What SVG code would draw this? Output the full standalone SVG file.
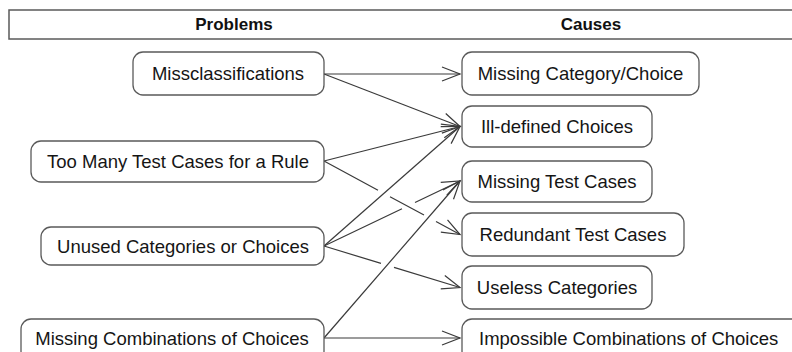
<svg xmlns="http://www.w3.org/2000/svg" width="792" height="352" viewBox="0 0 792 352">
<defs>
<style>
.box{fill:#fff;stroke:#5a5a5a;stroke-width:1.3}
.t{font-family:"Liberation Sans",Arial,sans-serif;font-size:18.5px;fill:#151515;text-anchor:middle}
.h{font-family:"Liberation Sans",Arial,sans-serif;font-size:17px;font-weight:bold;fill:#111;text-anchor:middle}
.c{fill:none;stroke:#3a3a3a;stroke-width:1.2;marker-end:url(#arr)}
</style>
<marker id="arr" markerUnits="userSpaceOnUse" markerWidth="22" markerHeight="18" refX="19" refY="8" orient="auto" viewBox="0 0 22 18"><path d="M1,1 L19,8 L1,15" fill="none" stroke="#3a3a3a" stroke-width="1.2"/></marker>
</defs>
<rect width="792" height="352" fill="#fff"/>
<g id="header">
<rect x="9" y="10" width="800" height="29" fill="#fff" stroke="#5a5a5a" stroke-width="1.5"/>
<text class="h" x="234" y="30">Problems</text>
<text class="h" x="591" y="30">Causes</text>
</g>
<g id="connectors">
<path class="c" d="M324,74 L460,74"/>
<path class="c" d="M324,74 L460,126.5"/>
<path class="c" d="M324,161 L460,126.5"/>
<path class="c" d="M324,161 L378,190.2 M390,196.7 L424,215 M436,221.5 L460,234.5"/>
<path class="c" d="M324,246 L460,126.5"/>
<path class="c" d="M324,246 L402,208.7 M415,202.5 L460,181"/>
<path class="c" d="M324,246 L381,263.4 M394,267.4 L460,287.5"/>
<path class="c" d="M324,338 L460,181"/>
<path class="c" d="M324,338 L460,338"/>
</g>
<g id="p-missclassifications">
<rect class="box" x="133" y="52" width="191" height="43" rx="10"/>
<text class="t" x="228" y="80">Missclassifications</text>
</g>
<g id="p-too-many">
<rect class="box" x="31" y="141" width="293" height="41" rx="10"/>
<text class="t" x="178" y="168">Too Many Test Cases for a Rule</text>
</g>
<g id="p-unused">
<rect class="box" x="41" y="227" width="283" height="38" rx="10"/>
<text class="t" x="183" y="252.5">Unused Categories or Choices</text>
</g>
<g id="p-missing-combinations">
<rect class="box" x="21" y="319" width="303" height="42" rx="10"/>
<text class="t" x="172" y="344.5">Missing Combinations of Choices</text>
</g>
<g id="c-missing-category">
<rect class="box" x="462" y="52" width="237" height="43" rx="10"/>
<text class="t" x="580.5" y="80">Missing Category/Choice</text>
</g>
<g id="c-ill-defined">
<rect class="box" x="462" y="106" width="190" height="41" rx="10"/>
<text class="t" x="557" y="133">Ill-defined Choices</text>
</g>
<g id="c-missing-test">
<rect class="box" x="462" y="161" width="190" height="41" rx="10"/>
<text class="t" x="557" y="188">Missing Test Cases</text>
</g>
<g id="c-redundant">
<rect class="box" x="462" y="213" width="222" height="43" rx="10"/>
<text class="t" x="573" y="241">Redundant Test Cases</text>
</g>
<g id="c-useless">
<rect class="box" x="462" y="266" width="190" height="43" rx="10"/>
<text class="t" x="557" y="294">Useless Categories</text>
</g>
<g id="c-impossible">
<rect class="box" x="462" y="319" width="350" height="42" rx="10"/>
<text class="t" x="479" y="344.5" style="text-anchor:start">Impossible Combinations of Choices</text>
</g>
</svg>
